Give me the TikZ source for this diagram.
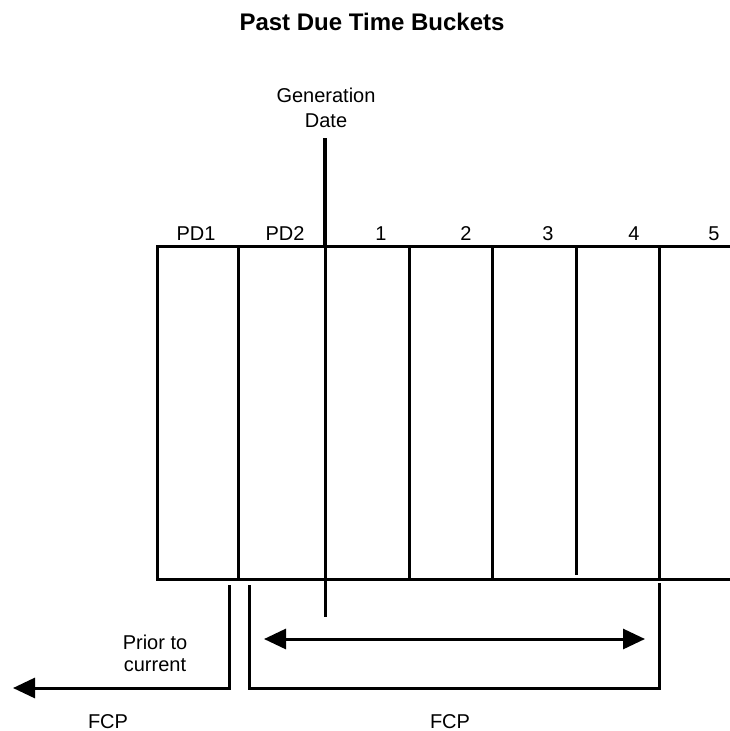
\documentclass[tikz,border=0pt]{standalone}
\usepackage{fontspec}
\setmainfont{Liberation Sans}
\usetikzlibrary{arrows.meta}
\begin{document}
\begin{tikzpicture}[x=1pt,y=-1pt,line width=3pt,
  lbl/.style={font=\fontsize{20}{24}\selectfont,inner sep=0pt,anchor=base},
  ttl/.style={font=\bfseries\fontsize{24}{28}\selectfont,inner sep=0pt,anchor=base},
  tipone/.style={-{Triangle[length=22pt,width=20pt]}},
  tiptwo/.style={{Triangle[length=22pt,width=20pt]}-{Triangle[length=22pt,width=20pt]}},
  grid/.style={line width=3pt}]
\useasboundingbox (0,0) rectangle (730,731);
% title and labels
\node[ttl] (title) at (372,30) {Past Due Time Buckets};
\node[lbl,align=center,font=\fontsize{20}{25}\selectfont] (gen) at (326,127) {Generation\\Date};
\node[lbl] (pd1) at (196,240) {PD1};
\node[lbl] (pd2) at (285,240) {PD2};
\node[lbl] (b1) at (381,240) {1};
\node[lbl] (b2) at (466,240) {2};
\node[lbl] (b3) at (548,240) {3};
\node[lbl] (b4) at (634,240) {4};
\node[lbl] (b5) at (714,240) {5};
\node[lbl,align=center,font=\fontsize{20}{22}\selectfont] (prior) at (155,671) {Prior to\\current};
\node[lbl] (fcpl) at (108,728) {FCP};
\node[lbl] (fcpr) at (450,728) {FCP};
% box coordinates
\coordinate (tr) at (730,246);
\coordinate (tl) at (157,246);
\coordinate (bl) at (157,579);
\coordinate (br) at (730,579);
\draw[grid] (tr) -- (tl) -- (bl) -- (br);
\foreach \x [count=\i] in {238,409,492,659}{
  \coordinate (dt\i) at (\x,246);
  \coordinate (db\i) at (\x,579);
  \draw[grid] (dt\i) -- (db\i);
}
\coordinate (d5t) at (576,246);
\coordinate (d5b) at (576,575);
\draw[grid] (d5t) -- (d5b);
% generation date line
\coordinate (g0) at (325,138);
\coordinate (g1) at (325,246);
\coordinate (g2) at (325,617);
\draw[line width=4pt] (g0) -- (g1);
\draw[grid] (g1) -- (g2);
% prior to current
\coordinate (p0) at (229,585);
\coordinate (p1) at (229,688);
\coordinate (p2) at (13,688);
\draw[tipone] (p0) -- (p1) -- (p2);
% FCP bracket
\coordinate (f0) at (249,585);
\coordinate (f1) at (249,688);
\coordinate (f2) at (659,688);
\coordinate (f3) at (659,583);
\draw (f0) -- (f1) -- (f2) -- (f3);
% double arrow
\coordinate (a0) at (264,639);
\coordinate (a1) at (645,639);
\draw[tiptwo] (a0) -- (a1);
\end{tikzpicture}
\end{document}
